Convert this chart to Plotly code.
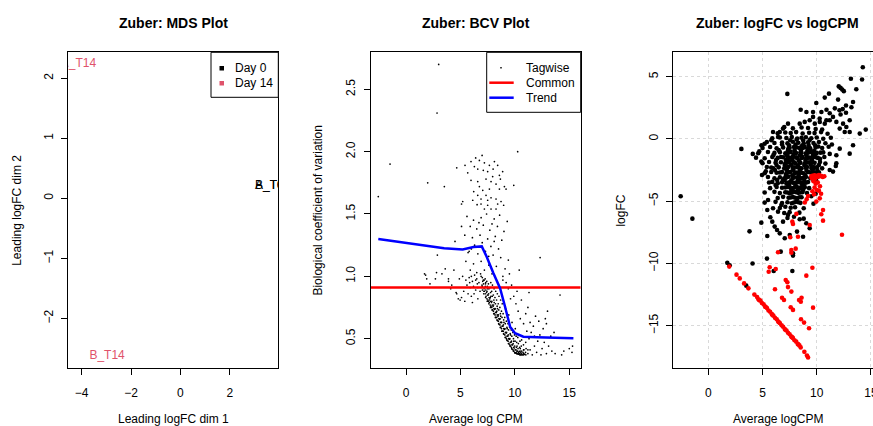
import plotly.graph_objects as go

# ---------------- data ----------------
# Panel 1: MDS
mds_labels = ["A_T0", "B_T0", "A_T14", "B_T14"]
mds_dim1 = [3.60, 3.60, -4.13, -2.97]
mds_dim2 = [0.21, 0.20, 2.24, -2.63]
mds_colors = ["#000000", "#000000", "#DF536B", "#DF536B"]

# Panel 2: BCV (AveLogCPM, tagwise BCV)
tagwise_pts = [
    (3.0, 2.70), (2.85, 2.31), (-1.47, 1.90), (-2.55, 1.64), (1.99, 1.75), (3.52, 1.72), (10.26, 2.00),
    (9.9, 1.73), (12.32, 1.15), (14.15, 0.85), (15.0, 0.42), (15.3, 0.44), (15.25, 0.39), (2.88, 1.17),
    (4.5, 1.28), (1.7, 1.02), (1.9, 0.98), (2.8, 1.03), (3.6, 1.06), (4.2, 0.93), (4.66, 0.86), (4.97, 0.81),
    (3.9, 0.98), (5.1, 1.58), (5.1, 1.40), (5.7, 1.19), (4.66, 1.87), (10.4, 1.05), (11.3, 0.87), (13.0, 0.72),
    (12.8, 0.66),
    (6.99, 1.97), (6.74, 1.93), (5.97, 1.92), (6.28, 1.88), (7.2, 1.91), (7.66, 1.89), (8.12, 1.92), (8.42, 1.89),
    (8.88, 1.84), (8.58, 1.81), (7.96, 1.80), (7.5, 1.84), (6.59, 1.86), (5.67, 1.83), (5.42, 1.89), (5.97, 1.77),
    (6.59, 1.76), (7.35, 1.78), (7.81, 1.76), (8.27, 1.74), (8.67, 1.78), (9.04, 1.72), (9.19, 1.70), (8.58, 1.70),
    (7.66, 1.70), (7.05, 1.69), (6.74, 1.72), (6.22, 1.68), (6.59, 1.65), (7.35, 1.65), (7.81, 1.63), (8.27, 1.62),
    (8.73, 1.60), (8.97, 1.57), (8.42, 1.58), (7.5, 1.57), (6.89, 1.58), (6.53, 1.575), (6.13, 1.61), (5.21, 1.60),
    (7.81, 1.54), (7.2, 1.54), (8.27, 1.54), (7.5, 1.61), (6.89, 1.62), (7.1, 1.85), (8.0, 1.86), (6.4, 1.95),
    (5.6, 1.48), (6.2, 1.45), (6.9, 1.47), (7.4, 1.50), (8.1, 1.46), (8.6, 1.49), (9.3, 1.44), (5.9, 1.40),
    (6.5, 1.38), (7.1, 1.41), (7.7, 1.37), (8.4, 1.40), (9.0, 1.36), (5.4, 1.33), (6.1, 1.31), (6.8, 1.33),
    (7.5, 1.30), (8.2, 1.32), (8.8, 1.29), (6.3, 1.25), (7.0, 1.27), (7.8, 1.24), (8.5, 1.22), (5.8, 1.20),
    (6.6, 1.18), (7.3, 1.20), (8.0, 1.17), (8.7, 1.15), (9.4, 1.13), (5.5, 1.12), (6.2, 1.10), (6.9, 1.12),
    (7.6, 1.09), (8.3, 1.08), (9.1, 1.06), (5.9, 1.05), (6.5, 1.03), (7.2, 1.05), (7.9, 1.02), (8.9, 1.00),
    (6.7, 1.43), (7.9, 1.42), (6.0, 1.22), (7.6, 1.16), (8.1, 1.28),
    (4.4, 1.05), (4.9, 0.98), (5.2, 1.00), (5.5, 0.97), (5.8, 0.99), (6.1, 0.96), (6.3, 1.01), (6.5, 0.98),
    (6.7, 0.95), (6.9, 1.00), (7.1, 0.97), (7.3, 0.94), (5.6, 0.93), (5.9, 0.91), (6.2, 0.92), (6.4, 0.89),
    (6.6, 0.91), (6.8, 0.88), (7.0, 0.92), (5.3, 0.88), (5.7, 0.86), (6.0, 0.84), (5.1, 0.83), (4.6, 0.87),
    (3.9, 0.96), (3.3, 1.02), (2.7, 0.98), (2.2, 0.94), (1.8, 1.01), (4.1, 0.90), (4.8, 0.82), (5.4, 0.80),
    (6.1, 0.79), (6.6, 0.82), (6.4, 0.97), (6.0, 1.0), (6.85, 1.02), (6.55, 0.94), (6.25, 0.86), (5.85, 0.95),
    (7.02, 0.89), (6.98, 0.93), (7.05, 0.96), (7.01, 0.99), (6.96, 0.91),
    (7.14, 0.86), (7.17, 0.90), (7.12, 0.94), (7.18, 0.97), (7.16, 0.88),
    (7.31, 0.83), (7.28, 0.86), (7.33, 0.89), (7.29, 0.92), (7.32, 0.95), (7.27, 0.98),
    (7.46, 0.80), (7.43, 0.82), (7.48, 0.85), (7.44, 0.88), (7.47, 0.92), (7.42, 0.96),
    (7.61, 0.78), (7.58, 0.80), (7.63, 0.83), (7.59, 0.86), (7.62, 0.90), (7.57, 0.94), (7.64, 0.81),
    (7.76, 0.75), (7.73, 0.77), (7.78, 0.80), (7.74, 0.83), (7.77, 0.87), (7.72, 0.91), (7.79, 0.95),
    (7.91, 0.73), (7.88, 0.75), (7.93, 0.77), (7.89, 0.80), (7.92, 0.84), (7.87, 0.88), (7.94, 0.93),
    (8.06, 0.70), (8.03, 0.72), (8.08, 0.74), (8.04, 0.77), (8.07, 0.81), (8.02, 0.85), (8.09, 0.90),
    (8.21, 0.67), (8.18, 0.69), (8.23, 0.71), (8.19, 0.74), (8.22, 0.78), (8.17, 0.83), (8.24, 0.88),
    (8.36, 0.65), (8.33, 0.67), (8.38, 0.69), (8.34, 0.72), (8.37, 0.76), (8.32, 0.81), (8.39, 0.86),
    (8.51, 0.62), (8.48, 0.64), (8.53, 0.66), (8.49, 0.69), (8.52, 0.73), (8.47, 0.78), (8.54, 0.84),
    (8.66, 0.59), (8.63, 0.61), (8.68, 0.63), (8.64, 0.66), (8.67, 0.70), (8.62, 0.75), (8.69, 0.81),
    (8.81, 0.56), (8.78, 0.58), (8.83, 0.60), (8.79, 0.63), (8.82, 0.67), (8.77, 0.72), (8.84, 0.78),
    (8.96, 0.54), (8.93, 0.56), (8.98, 0.58), (8.94, 0.61), (8.97, 0.65), (8.92, 0.70),
    (9.11, 0.51), (9.08, 0.53), (9.13, 0.55), (9.09, 0.58), (9.12, 0.62), (9.07, 0.67), (9.14, 0.74),
    (9.26, 0.49), (9.23, 0.50), (9.28, 0.52), (9.24, 0.55), (9.27, 0.59), (9.22, 0.64),
    (9.41, 0.46), (9.38, 0.48), (9.43, 0.50), (9.39, 0.53), (9.42, 0.57), (9.37, 0.62), (9.44, 0.69),
    (9.56, 0.44), (9.53, 0.45), (9.58, 0.47), (9.54, 0.50), (9.57, 0.54), (9.52, 0.59),
    (9.71, 0.42), (9.68, 0.43), (9.73, 0.45), (9.69, 0.48), (9.72, 0.52), (9.67, 0.57), (9.74, 0.63),
    (9.86, 0.40), (9.83, 0.41), (9.88, 0.43), (9.84, 0.46), (9.87, 0.50), (9.82, 0.55),
    (10.01, 0.385), (9.98, 0.39), (10.03, 0.41), (9.99, 0.44), (10.02, 0.48), (9.97, 0.53), (10.04, 0.58),
    (10.16, 0.38), (10.13, 0.385), (10.18, 0.40), (10.14, 0.43), (10.17, 0.47), (10.12, 0.52),
    (10.31, 0.375), (10.28, 0.38), (10.33, 0.39), (10.29, 0.42), (10.32, 0.46), (10.27, 0.51),
    (10.46, 0.37), (10.43, 0.38), (10.48, 0.40), (10.44, 0.43), (10.47, 0.48),
    (10.61, 0.37), (10.58, 0.38), (10.63, 0.40), (10.59, 0.44), (10.62, 0.49),
    (10.81, 0.37), (10.78, 0.38), (10.83, 0.41), (10.79, 0.45),
    (11.01, 0.37), (10.98, 0.39), (11.03, 0.42), (11.0, 0.47),
    (7.2, 0.88), (7.35, 0.84), (7.5, 0.81), (7.65, 0.79), (7.8, 0.76), (7.95, 0.73), (8.1, 0.70), (8.25, 0.67),
    (8.4, 0.645), (8.55, 0.615), (8.7, 0.59), (8.85, 0.56), (9.0, 0.535), (9.15, 0.51), (9.3, 0.485),
    (9.45, 0.46), (9.6, 0.44), (9.75, 0.415), (9.9, 0.40), (10.05, 0.385), (10.2, 0.38), (10.35, 0.375),
    (10.5, 0.37), (10.7, 0.37), (10.9, 0.375),
    (7.25, 0.91), (7.4, 0.87), (7.55, 0.85), (7.7, 0.82), (7.85, 0.79), (8.0, 0.76), (8.15, 0.735), (8.3, 0.71),
    (8.45, 0.68), (8.6, 0.655), (8.75, 0.63), (8.9, 0.6), (9.05, 0.575), (9.2, 0.545), (9.35, 0.52), (9.5, 0.495),
    (9.65, 0.47), (9.8, 0.45), (9.95, 0.425), (10.1, 0.41), (10.25, 0.40), (10.4, 0.395), (10.55, 0.39),
    (10.75, 0.39),
    (7.5, 0.9), (7.8, 0.84), (8.1, 0.79), (8.4, 0.74), (8.7, 0.68), (9.0, 0.63), (9.3, 0.58), (9.6, 0.53),
    (9.9, 0.48), (10.2, 0.44), (10.5, 0.42), (10.8, 0.41), (11.2, 0.41),
    (11.2, 0.38), (11.4, 0.41), (11.6, 0.37), (11.3, 0.50), (11.5, 0.55), (11.8, 0.44), (12.0, 0.39), (12.1, 0.48),
    (11.7, 0.60), (12.3, 0.53), (12.5, 0.42), (12.2, 0.64), (11.9, 0.68), (12.7, 0.47), (12.9, 0.38), (13.1, 0.44),
    (13.3, 0.52), (12.6, 0.58), (13.4, 0.40), (11.1, 0.56), (11.4, 0.63), (11.0, 0.70), (10.8, 0.62), (10.5, 0.66),
    (10.3, 0.72), (10.1, 0.78), (9.9, 0.84), (9.6, 0.82), (9.4, 0.90), (9.7, 0.93), (10.2, 0.88), (9.2, 0.95),
    (8.9, 0.97), (9.5, 1.02), (11.8, 0.52), (12.4, 0.37), (13.7, 0.38), (14.3, 0.37), (14.5, 0.40), (11.2, 0.75),
    (10.6, 0.81), (12.9, 0.62), (13.6, 0.55),
]
common_bcv = 0.91
trend_logcpm = [-2.55, -1.0, 0.5, 2.0, 3.5, 5.2, 6.2, 6.96, 7.41, 8.03, 8.64, 9.1, 9.56, 10.02, 10.78, 12.0, 13.5, 15.38]
trend_bcv = [1.30, 1.28, 1.26, 1.24, 1.225, 1.216, 1.235, 1.24, 1.157, 1.024, 0.904, 0.756, 0.596, 0.543, 0.516, 0.511, 0.507, 0.503]

# Panel 3: logFC vs logCPM, non-significant (black) and significant (red)
black_pts = [
    (-2.55, -4.6), (-1.47, -6.4), (3.05, -0.8), (3.8, -7.42), (4.08, -10.0), (1.75, -9.95), (1.97, -10.15),
    (7.29, 3.62), (14.25, 5.76), (14.18, 4.78), (13.15, 4.84), (13.65, 3.99), (12.03, 4.22), (12.2, 4.1),
    (12.35, 3.97), (12.5, 3.84), (14.52, 0.75), (13.97, 0.43), (9.96, 2.89), (11.13, 3.64), (10.74, 3.32),
    (11.97, 3.16), (13.35, 2.97), (13.2, 2.55), (12.7, 2.69), (12.4, 2.4), (12.1, 2.3), (12.7, 2.1), (12.2, 1.97),
    (8.52, 2.35), (9.05, 2.17), (9.66, 2.17), (10.43, 2.17), (10.9, 2.35), (11.2, 2.06), (11.67, 2.46),
    (9.66, 1.77), (10.27, 1.64), (10.89, 1.5), (11.5, 1.77), (7.35, 1.23), (6.89, 0.83), (6.59, 0.56),
    (5.97, 0.56), (6.43, 0.16), (5.81, -0.1), (5.2, -0.38), (8.43, 1.23), (8.89, 1.37), (9.35, 1.5), (9.82, 1.23),
    (10.28, 1.37), (10.74, 1.23), (11.2, 1.5), (11.81, 1.37), (12.43, 1.23), (13.04, 1.5), (12.73, 0.96),
    (12.12, 0.83), (12.58, 0.56), (13.04, 0.56), (13.35, -0.51), (13.04, -1.18), (12.12, -0.78), (11.81, -1.31),
    (11.2, -2.49), (11.5, -2.62), (11.81, -1.95), (11.76, -2.17),
    (4.89, -1.82), (5.2, -5.11), (5.51, -4.9), (4.89, -6.72), (5.44, -7.79), (5.44, -5.7), (5.72, -6.29),
    (5.9, -6.64), (6.12, -7.04), (6.34, -7.31), (6.59, -7.58), (7.05, -7.98), (7.51, -7.71), (8.18, -7.44),
    (8.74, -7.85), (9.35, -7.17), (9.04, -6.77), (8.43, -6.45), (6.89, -6.64), (7.35, -6.1), (6.43, -5.84),
    (5.97, -5.57), (6.73, -5.3), (7.81, -9.18), (6.68, -9.05), (5.41, -9.61), (7.81, -9.37), (7.75, -10.6),
    (6.03, -10.6), (3.5, -11.78), (4.4, -1.5), (4.1, -1.2), (4.7, -1.0), (4.9, -0.5), (5.3, -2.6), (4.95, -2.9),
    (5.6, -3.5), (5.2, -4.3),
    (7.0, 0.95), (7.8, 0.85), (8.6, 0.92), (9.2, 0.88), (9.9, 0.8), (10.5, 0.75),
    (6.4, 0.45), (7.1, 0.52), (7.6, 0.48), (8.1, 0.55), (8.7, 0.44), (9.3, 0.5), (9.8, 0.47), (10.4, 0.55), (11.0, 0.42),
    (5.9, 0.05), (6.6, 0.12), (7.2, 0.08), (7.7, 0.15), (8.2, 0.03), (8.6, 0.1), (9.0, 0.14), (9.5, 0.06),
    (10.0, 0.12), (10.6, 0.02), (11.3, 0.1),
    (5.4, -0.25), (6.1, -0.32), (6.8, -0.28), (7.3, -0.35), (7.8, -0.22), (8.3, -0.3), (8.8, -0.36), (9.2, -0.26),
    (9.7, -0.33), (10.2, -0.24), (10.8, -0.35), (11.4, -0.45),
    (5.0, -0.72), (5.7, -0.65), (6.3, -0.75), (6.9, -0.68), (7.4, -0.74), (7.9, -0.64), (8.4, -0.72), (8.9, -0.66),
    (9.4, -0.76), (9.9, -0.68), (10.5, -0.73), (11.1, -0.62),
    (4.6, -1.15), (5.5, -1.05), (6.1, -1.12), (6.6, -1.06), (7.1, -1.16), (7.6, -1.04), (8.1, -1.13), (8.5, -1.07),
    (9.0, -1.15), (9.5, -1.05), (10.0, -1.12), (10.6, -1.08), (11.2, -1.2),
    (5.2, -1.55), (5.9, -1.45), (6.4, -1.52), (6.9, -1.47), (7.3, -1.56), (7.8, -1.44), (8.2, -1.53), (8.7, -1.46),
    (9.1, -1.55), (9.6, -1.48), (10.1, -1.52), (10.7, -1.45),
    (5.0, -1.95), (5.6, -1.85), (6.2, -1.92), (6.7, -1.87), (7.1, -1.96), (7.5, -1.84), (8.0, -1.93), (8.4, -1.86),
    (8.9, -1.95), (9.3, -1.88), (9.8, -1.92), (10.3, -1.85), (10.8, -1.98),
    (5.4, -2.25), (6.0, -2.35), (6.5, -2.28), (7.0, -2.36), (7.4, -2.24), (7.8, -2.33), (8.2, -2.27), (8.6, -2.35),
    (9.1, -2.26), (9.5, -2.34), (10.0, -2.28), (10.5, -2.36),
    (5.2, -2.75), (5.8, -2.65), (6.3, -2.72), (6.8, -2.66), (7.2, -2.76), (7.6, -2.64), (8.0, -2.73), (8.4, -2.67),
    (8.8, -2.75), (9.2, -2.65), (9.7, -2.72), (10.2, -2.68),
    (5.5, -3.05), (6.1, -3.15), (6.6, -3.08), (7.0, -3.16), (7.4, -3.04), (7.8, -3.13), (8.2, -3.07), (8.6, -3.15),
    (9.0, -3.06), (9.4, -3.14),
    (5.9, -3.45), (6.4, -3.55), (6.8, -3.48), (7.2, -3.56), (7.6, -3.44), (8.0, -3.53), (8.4, -3.47), (8.8, -3.55),
    (9.2, -3.46),
    (5.7, -3.95), (6.3, -3.85), (6.8, -3.92), (7.3, -3.86), (7.7, -3.96), (8.1, -3.84), (8.5, -3.93), (8.9, -3.87),
    (9.3, -3.95),
    (6.1, -4.25), (6.6, -4.35), (7.1, -4.28), (7.5, -4.36), (7.9, -4.24), (8.3, -4.33), (8.7, -4.27), (9.1, -4.35),
    (9.9, -4.4),
    (6.4, -4.75), (6.9, -4.65), (7.4, -4.72), (7.8, -4.66), (8.2, -4.76), (8.6, -4.68), (9.5, -4.6),
    (6.2, -5.05), (6.8, -5.15), (7.3, -5.08), (7.7, -5.16), (8.1, -5.04), (8.5, -5.13), (9.7, -5.2),
    (6.6, -5.55), (7.1, -5.45), (7.6, -5.52), (8.0, -5.48), (8.8, -5.56),
    (7.0, -5.95), (7.5, -5.88), (8.4, -5.92), (7.3, -6.35), (7.9, -6.25), (8.8, -6.4),
    (7.45, -0.5), (8.05, -0.45), (8.65, -0.52), (9.25, -0.48), (9.85, -0.5), (7.35, -0.9), (7.95, -0.92),
    (8.55, -0.88), (9.15, -0.9), (9.75, -0.95), (7.25, -1.3), (7.85, -1.28), (8.45, -1.32), (9.05, -1.3),
    (9.65, -1.27), (7.15, -1.7), (7.75, -1.68), (8.35, -1.72), (8.95, -1.7), (9.55, -1.68), (7.05, -2.1),
    (7.65, -2.08), (8.25, -2.12), (8.85, -2.1), (9.45, -2.08), (7.25, -2.5), (7.85, -2.48), (8.45, -2.52),
    (9.05, -2.5), (9.65, -2.47), (7.15, -2.9), (7.75, -2.92), (8.35, -2.88), (8.95, -2.9), (7.05, -3.3),
    (7.65, -3.32), (8.25, -3.28), (8.85, -3.3), (7.45, -3.7), (8.05, -3.72), (8.65, -3.68), (7.65, -4.1),
    (8.25, -4.12), (8.75, -4.08), (6.25, -1.7), (6.15, -2.5), (6.35, -3.3), (10.35, -1.1), (10.15, -0.6),
    (10.05, -2.5),
    (7.55, -0.1), (8.15, -0.05), (8.75, -0.12), (9.35, -0.08), (7.5, -0.7), (8.1, -0.68), (8.7, -0.72), (9.3, -0.7),
    (7.4, -1.1), (8.0, -1.08), (8.6, -1.12), (9.2, -1.1), (9.8, -1.14),
    (7.5, -1.5), (8.1, -1.48), (8.6, -1.52), (9.3, -1.5), (9.9, -1.46),
    (7.3, -1.9), (7.9, -1.88), (8.5, -1.92), (9.1, -1.9), (9.6, -1.86),
    (7.2, -2.3), (7.9, -2.28), (8.4, -2.32), (9.0, -2.3), (9.7, -2.26),
    (7.4, -2.7), (8.1, -2.7), (8.6, -2.72), (9.4, -2.68), (10.0, -2.7),
    (7.2, -3.1), (7.9, -3.08), (8.4, -3.12), (8.8, -3.1), (9.6, -3.2),
    (7.4, -3.5), (7.8, -3.52), (8.2, -3.48), (8.6, -3.5), (9.0, -3.52),
    (7.1, -3.9), (7.5, -3.88), (7.9, -3.92), (8.3, -3.9), (8.7, -3.88),
    (7.3, -4.3), (7.7, -4.32), (8.1, -4.28), (8.5, -4.3),
    (7.6, -4.7), (8.0, -4.72), (8.4, -4.68), (7.9, -5.1), (8.3, -5.08),
    (6.5, -0.9), (6.0, -1.3), (6.3, -2.1), (6.6, -2.7), (6.9, -3.3), (6.2, -3.7), (5.8, -2.3), (6.8, -0.45),
    (6.7, -1.45), (10.3, -1.6), (10.2, -2.1), (9.95, -3.35),
]
red_pts = [
    (1.93, -10.25), (2.6, -10.9), (2.9, -11.2), (3.3, -11.6), (3.7, -12.0), (4.25, -12.5),
    (4.5, -12.7), (4.63, -12.88), (4.8, -12.98), (4.94, -13.17), (5.1, -13.28), (5.24, -13.47), (5.41, -13.58),
    (5.55, -13.78), (5.7, -13.88), (5.86, -14.07), (6.0, -14.19), (6.15, -14.37), (6.31, -14.48), (6.45, -14.67),
    (6.6, -14.79), (6.76, -14.97), (6.9, -15.08), (7.05, -15.27), (7.21, -15.38), (7.35, -15.57), (7.5, -15.68),
    (7.66, -15.87), (7.8, -15.98), (7.95, -16.17), (8.11, -16.28), (8.25, -16.47), (8.4, -16.58), (8.52, -16.74),
    (4.7, -12.95), (5.3, -13.5), (5.9, -14.12), (6.5, -14.72), (7.1, -15.32), (7.7, -15.92), (8.3, -16.5),
    (8.86, -17.1), (9.1, -17.4), (9.2, -17.55),
    (5.66, -10.3), (5.57, -10.66), (6.22, -10.44), (9.6, -10.34), (9.04, -10.98), (7.14, -11.33), (7.29, -11.51),
    (7.35, -11.9), (7.66, -12.26), (6.15, -12.07), (6.8, -12.75), (6.98, -12.93), (8.37, -12.93), (8.6, -12.75),
    (8.53, -13.07), (7.6, -13.52), (7.81, -13.73), (9.66, -13.55), (8.55, -14.48), (8.83, -14.75), (9.29, -15.2),
    (6.43, -9.1), (7.66, -8.92), (8.06, -8.81), (7.66, -9.13),
    (12.33, -7.69), (8.27, -7.85), (7.56, -7.9), (7.75, -6.64), (7.81, -6.83), (8.12, -6.02), (9.35, -6.91),
    (10.58, -6.56), (10.58, -5.7), (10.42, -6.05), (9.96, -5.03), (9.2, -4.58), (9.07, -4.84), (8.9, -5.1),
    (10.28, -4.77), (10.2, -4.15),
    (9.5, -3.0), (9.6, -2.95), (9.7, -3.05), (9.8, -2.92), (9.9, -3.0), (10.0, -2.95), (10.1, -3.05), (10.2, -2.9),
    (10.3, -3.0), (10.4, -2.95), (10.55, -3.05), (10.7, -3.0), (9.55, -3.15), (9.85, -3.2),
    (9.7, -3.4), (9.9, -3.6), (10.1, -3.5), (9.8, -3.9), (10.0, -4.1), (10.3, -3.8), (9.6, -4.2), (10.4, -4.4),
    (9.75, -4.45),
]

# ---------------- figure ----------------
W, H = 873, 426
FONT = "Liberation Sans, Arial, Helvetica, sans-serif"


def px(x):
    return x / W


def py(y):
    return 1 - y / H


fig = go.Figure()

# Panel 1
fig.add_trace(go.Scatter(x=mds_dim1, y=mds_dim2, text=mds_labels, mode="text",
                         textfont=dict(color=mds_colors, size=12, family=FONT),
                         cliponaxis=True, xaxis="x", yaxis="y", showlegend=False))

# Panel 2
fig.add_trace(go.Scatter(x=[p[0] for p in tagwise_pts], y=[p[1] for p in tagwise_pts], mode="markers",
                         marker=dict(color="black", size=1.7), xaxis="x2", yaxis="y2", showlegend=False))
fig.add_trace(go.Scatter(x=[-3.22, 16.05], y=[common_bcv, common_bcv], mode="lines",
                         line=dict(color="#FF0000", width=2.5), xaxis="x2", yaxis="y2", showlegend=False))
fig.add_trace(go.Scatter(x=trend_logcpm, y=trend_bcv, mode="lines",
                         line=dict(color="#0000FF", width=2.5), xaxis="x2", yaxis="y2", showlegend=False))

# Panel 3
fig.add_trace(go.Scatter(x=[p[0] for p in black_pts], y=[p[1] for p in black_pts], mode="markers",
                         marker=dict(color="black", size=4.6), xaxis="x3", yaxis="y3", showlegend=False))
fig.add_trace(go.Scatter(x=[p[0] for p in red_pts], y=[p[1] for p in red_pts], mode="markers",
                         marker=dict(color="#FF0000", size=4.6), xaxis="x3", yaxis="y3", showlegend=False))

ydom = [py(368.3), py(52.3)]
common_axis = dict(showgrid=False, zeroline=False, showline=True, linecolor="black", linewidth=1,
                   ticks="outside", ticklen=6, tickcolor="black", tickwidth=1, automargin=False,
                   tickfont=dict(size=12, family=FONT, color="black"))
xcommon = dict(common_axis, ticklabelstandoff=7)
ycommon = dict(common_axis, ticklabelstandoff=4, tickangle=-90)
grid = dict(showgrid=True, gridcolor="#D9D9D9", griddash="dot", gridwidth=1)

fig.update_layout(
    width=W, height=H, margin=dict(l=0, r=0, t=0, b=0, autoexpand=False),
    paper_bgcolor="white", plot_bgcolor="white",
    font=dict(family=FONT, color="black", size=12),
    xaxis=dict(xcommon, domain=[px(68.3), px(278.3)], range=[-4.54, 3.96], tickvals=[-4, -2, 0, 2],
               mirror=True, anchor="y"),
    yaxis=dict(ycommon, domain=ydom, range=[-2.83, 2.43], tickvals=[-2, -1, 0, 1, 2],
               mirror=True, anchor="x"),
    xaxis2=dict(xcommon, domain=[px(371), px(580.7)], range=[-3.22, 16.05], tickvals=[0, 5, 10, 15],
                mirror=True, anchor="y2"),
    yaxis2=dict(ycommon, domain=ydom, range=[0.262, 2.797], tickvals=[0.5, 1.0, 1.5, 2.0, 2.5],
                ticktext=["0.5", "1.0", "1.5", "2.0", "2.5"], mirror=True, anchor="x2"),
    xaxis3=dict(xcommon, **grid, domain=[px(673.3), 1.0], range=[-3.23, 15.19], tickvals=[0, 5, 10, 15],
                mirror=True, anchor="y3", ticklabeloverflow="allow"),
    yaxis3=dict(ycommon, **grid, domain=ydom, range=[-18.42, 6.96], tickvals=[-15, -10, -5, 0, 5],
                mirror=False, anchor="x3"),
)

ann = []
# titles
for cx, t in [(173, "Zuber: MDS Plot"), (475.8, "Zuber: BCV Plot"), (777.7, "Zuber: logFC vs logCPM")]:
    ann.append(dict(x=px(cx), y=py(23), xref="paper", yref="paper", text="<b>" + t + "</b>",
                    showarrow=False, xanchor="center", yanchor="middle", font=dict(size=14, family=FONT)))
# x axis titles
for cx, t in [(173, "Leading logFC dim 1"), (475.8, "Average log CPM"), (778.3, "Average logCPM")]:
    ann.append(dict(x=px(cx), y=py(419), xref="paper", yref="paper", text=t, showarrow=False,
                    xanchor="center", yanchor="middle", font=dict(size=12, family=FONT)))
# y axis titles
for cx, t in [(17.5, "Leading logFC dim 2"), (318.3, "Biological coefficient of variation"), (621.3, "logFC")]:
    ann.append(dict(x=px(cx), y=py(210.3), xref="paper", yref="paper", text=t, showarrow=False,
                    textangle=-90, xanchor="center", yanchor="middle", font=dict(size=12, family=FONT)))
# legend texts
for lx, ly, t in [(233.3, 68.3, "Day 0"), (233.3, 83.3, "Day 14"),
                  (524.3, 67.7, "Tagwise"), (524.3, 82.7, "Common"), (524.3, 97.7, "Trend")]:
    ann.append(dict(x=px(lx), y=py(ly), xref="paper", yref="paper", text=t, showarrow=False,
                    xanchor="left", yanchor="middle", font=dict(size=12, family=FONT)))
fig.update_layout(annotations=ann)

shapes = [
    dict(type="rect", xref="paper", yref="paper", x0=px(211), x1=px(278.3), y0=py(97.3), y1=py(52.3),
         line=dict(color="black", width=1), fillcolor="white", layer="above"),
    dict(type="rect", xref="paper", yref="paper", x0=px(219.5), x1=px(224), y0=py(70.5), y1=py(66),
         line=dict(width=0), fillcolor="black", layer="above"),
    dict(type="rect", xref="paper", yref="paper", x0=px(219.5), x1=px(224), y0=py(85.5), y1=py(81),
         line=dict(width=0), fillcolor="#DF536B", layer="above"),
    dict(type="rect", xref="paper", yref="paper", x0=px(486.7), x1=px(580.7), y0=py(112.3), y1=py(52.3),
         line=dict(color="black", width=1), fillcolor="white", layer="above"),
    dict(type="rect", xref="paper", yref="paper", x0=px(500.3), x1=px(501.7), y0=py(68.4), y1=py(67),
         line=dict(width=0), fillcolor="black", layer="above"),
    dict(type="line", xref="paper", yref="paper", x0=px(489.3), x1=px(513.7), y0=py(82.7), y1=py(82.7),
         line=dict(color="#FF0000", width=2.5), layer="above"),
    dict(type="line", xref="paper", yref="paper", x0=px(489.3), x1=px(513.7), y0=py(97.7), y1=py(97.7),
         line=dict(color="#0000FF", width=2.5), layer="above"),
]
fig.update_layout(shapes=shapes)

# clip the graph container so the half-visible "15" tick label cannot widen the page
fig.write_html("out.html",
               post_script="var gd=document.getElementById('{plot_id}');"
                           "gd.style.overflow='hidden';"
                           "if(gd.parentElement){gd.parentElement.style.overflow='hidden';}"
                           "document.documentElement.style.overflow='hidden';"
                           "document.body.style.overflow='hidden';document.body.style.margin='0';")
